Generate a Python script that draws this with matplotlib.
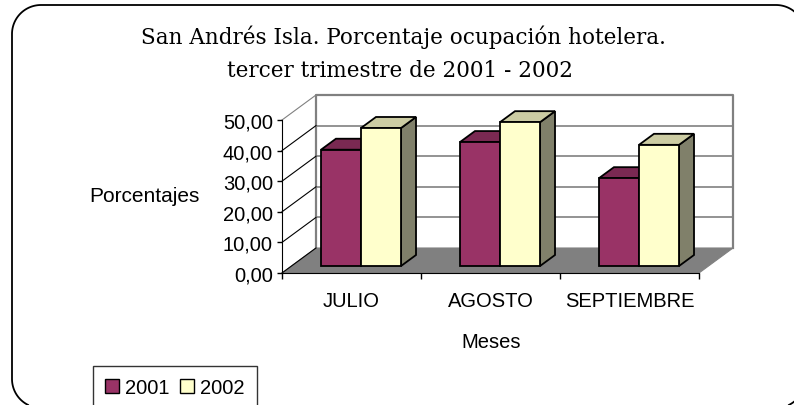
import numpy as np
import matplotlib
matplotlib.use('Agg')
import matplotlib.pyplot as plt
from matplotlib.patches import Polygon, Patch
from matplotlib.ticker import FuncFormatter

plt.rcParams['font.family'] = ['Liberation Sans', 'DejaVu Sans']

# ---------------- data ----------------
months = ["JULIO", "AGOSTO", "SEPTIEMBRE"]
series_names = ["2001", "2002"]
v2001 = [38.0, 40.5, 28.7]
v2002 = [45.1, 47.0, 39.6]
yticks = [0, 10, 20, 30, 40, 50]
title_lines = ["San Andrés Isla. Porcentaje ocupación hotelera.",
               "tercer trimestre de 2001 - 2002"]

# ---------------- style ----------------
c_front = ["#993366", "#FFFFCC"]
c_top = ["#7a2952", "#cccca3"]
c_side = ["#5c1f3d", "#80806a"]
grid_c = "#808080"

W, H = 794, 406
fig = plt.figure(figsize=(W / 100, H / 100), dpi=100)

# decorative overlay (rounded chart frame, bottom/right edges lie outside the picture)
bg = fig.add_axes([0, 0, 1, 1])
bg.set_xlim(0, W)
bg.set_ylim(H, 0)
bg.axis('off')
fl, ft, fr, fb, rad = 12, 6, 805, 409, 29
def arc(cx, cy, a0, a1, n=30):
    t = np.radians(np.linspace(a0, a1, n))
    return cx + rad * np.cos(t), cy + rad * np.sin(t)
parts = [arc(fl + rad, fb - rad, 90, 180),      # bottom-left (y down)
         arc(fl + rad, ft + rad, 180, 270),     # top-left
         arc(fr - rad, ft + rad, 270, 360),     # top-right
         arc(fr - rad, fb - rad, 0, 90)]        # bottom-right
fx = np.concatenate([p[0] for p in parts])
fy = np.concatenate([p[1] for p in parts])
keep = fy <= H + 0.5
bg.plot(fx[keep], fy[keep], color='black', lw=1.3, solid_capstyle='butt')

# main axes: front plane, x in category units, y in value units
ox_px, oy_px = 282, 274
ux, uy = 139.0, 3.06
xa, xb, ya, yb = -0.6, 3.4, -3, 60
ax = fig.add_axes([(ox_px + xa * ux) / W, (H - oy_px + ya * uy) / H,
                   (xb - xa) * ux / W, (yb - ya) * uy / H])
ax.set_xlim(xa, xb)
ax.set_ylim(ya, yb)
ax.patch.set_visible(False)

ncat = len(months)
ymax = yticks[-1]
dxd, dyd = 34 / ux, 25 / uy  # depth vector in data units

# floor
ax.add_patch(Polygon([(0, 0), (ncat, 0), (ncat + dxd, dyd), (dxd, dyd)],
                     closed=True, fc="#808080", ec="#808080", lw=0.8, zorder=1))
# back wall gridlines and border
for v in yticks[1:-1]:
    ax.plot([dxd, ncat + dxd], [v + dyd, v + dyd], color=grid_c, lw=1.2, zorder=1)
ax.plot([dxd, dxd, ncat + dxd, ncat + dxd],
        [dyd, ymax + dyd, ymax + dyd, dyd], color=grid_c, lw=1.6, zorder=1)
# side wall diagonals
for v in yticks:
    ax.plot([0, dxd], [v, v + dyd], color=("black" if v < ymax else grid_c),
            lw=0.8, zorder=1)

# bars
bw = 0.288
f0, fd = 0.28, 0.44
sx, sy = f0 * dxd, f0 * dyd
bx, by = fd * dxd, fd * dyd
z = 3
for i in range(ncat):
    for s, vals in enumerate([v2001, v2002]):
        v = vals[i]
        x0 = i + 0.5 - bw + s * bw + sx
        x1 = x0 + bw
        y0 = sy
        y1 = sy + v
        kw = dict(closed=True, ec="black", lw=1.3, joinstyle='miter')
        ax.add_patch(Polygon([(x1, y0), (x1 + bx, y0 + by), (x1 + bx, y1 + by), (x1, y1)],
                             fc=c_side[s], zorder=z, **kw))
        ax.add_patch(Polygon([(x0, y1), (x1, y1), (x1 + bx, y1 + by), (x0 + bx, y1 + by)],
                             fc=c_top[s], zorder=z, **kw))
        ax.add_patch(Polygon([(x0, y0), (x1, y0), (x1, y1), (x0, y1)],
                             fc=c_front[s], zorder=z, **kw))
        z += 1

# axes spines / ticks
for sp in ['top', 'right']:
    ax.spines[sp].set_visible(False)
ax.spines['left'].set_position(('data', 0))
ax.spines['left'].set_bounds(0, ymax)
ax.spines['bottom'].set_position(('data', 0))
ax.spines['bottom'].set_bounds(0, ncat)
ax.spines['left'].set_zorder(20)
ax.spines['bottom'].set_zorder(20)

ax.set_yticks(yticks)
ax.yaxis.set_major_formatter(FuncFormatter(lambda v, p: f"{v:.2f}".replace('.', ',')))
ax.tick_params(axis='y', length=3.6, width=1, pad=3, labelsize=14.5)

ax.set_xticks(range(ncat + 1))
ax.set_xticklabels([])
ax.set_xticks([i + 0.5 for i in range(ncat)], minor=True)
ax.set_xticklabels(months, minor=True)
ax.tick_params(axis='x', which='major', length=4.5, width=1)
ax.tick_params(axis='x', which='minor', length=0, pad=13, labelsize=14.5)

ax.set_ylabel('Porcentajes', rotation=0, fontsize=15, ha='center', va='center')
ax.yaxis.set_label_coords(144 / W, 1 - 197 / H, transform=fig.transFigure)
ax.set_xlabel('Meses', fontsize=14.5, va='center')
ax.xaxis.set_label_coords(491 / W, 1 - 343 / H, transform=fig.transFigure)

# title
fig.text(403 / W, 1 - 37 / H, title_lines[0], ha='center', va='center',
         family='DejaVu Serif', fontsize=15.5)
fig.text(400 / W, 1 - 71 / H, title_lines[1], ha='center', va='center',
         family='DejaVu Serif', fontsize=15.5)

# legend
handles = [Patch(fc=c_front[k], ec='black', lw=1) for k in range(2)]
leg = fig.legend(handles, series_names, loc='upper left',
                 bbox_to_anchor=(93 / W, 1 - 367 / H), bbox_transform=fig.transFigure,
                 ncol=2, fontsize=14.5, frameon=True, fancybox=False, edgecolor='black',
                 handlelength=0.7, handleheight=0.7, handletextpad=0.3,
                 columnspacing=0.5, borderpad=0.6, borderaxespad=0)
leg.get_frame().set_linewidth(1)

fig.savefig('out.png', dpi=100)
